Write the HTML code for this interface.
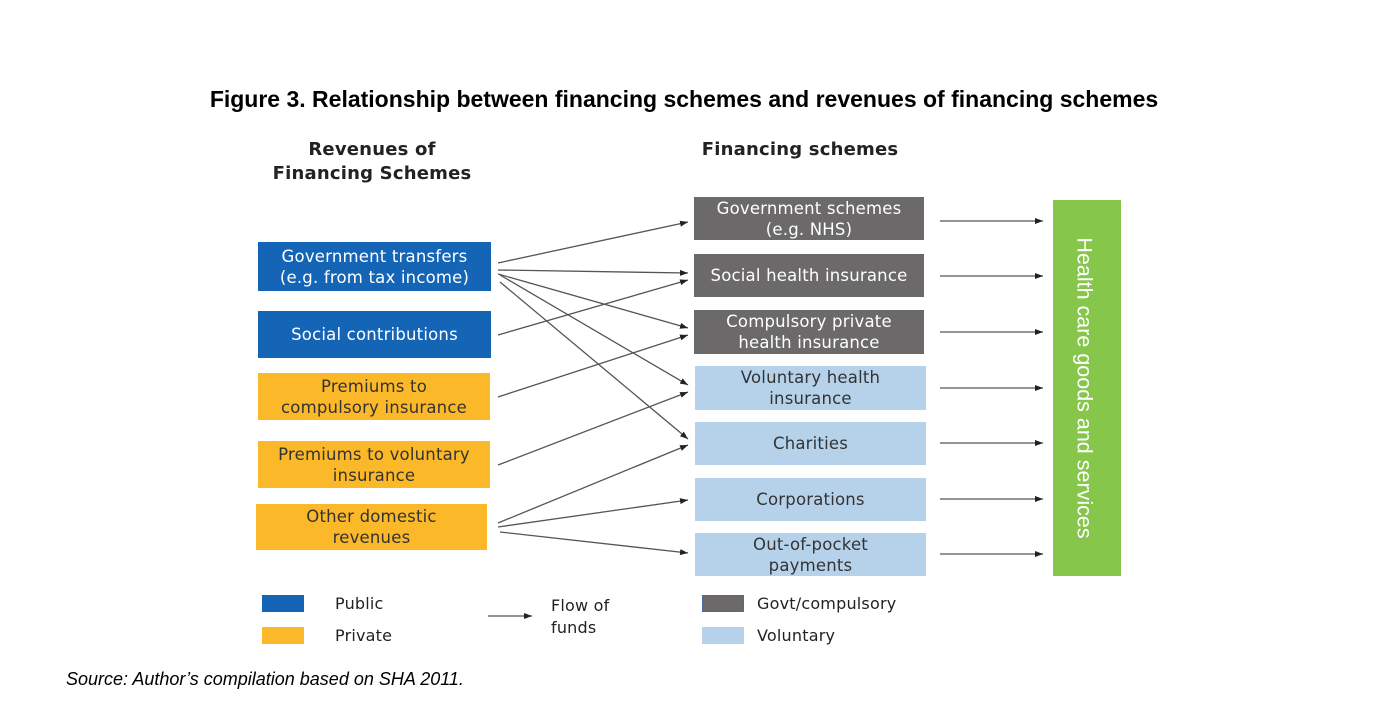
<!DOCTYPE html>
<html><head><meta charset="utf-8"><style>
body{margin:0;width:1378px;height:706px;background:#fff;position:relative;overflow:hidden;font-family:"Liberation Sans",sans-serif}
.b{position:absolute;display:flex;align-items:center;justify-content:center;text-align:center;font-family:"DejaVu Sans",sans-serif;font-size:16.5px;line-height:21px;letter-spacing:0.2px}
.pub{background:#1565b7;color:#fff}.pri{background:#fbb829;color:#333}
.gov{background:#6b6969;color:#fff}.vol{background:#b6d2ea;color:#333}
.t{position:absolute;font-family:"DejaVu Sans",sans-serif;font-size:16px;color:#222;letter-spacing:0.2px}
.sw{position:absolute;width:42px;height:17px}
</style></head><body>
<div class="t" style="left:0;width:1368px;top:86px;text-align:center;font-family:'Liberation Sans',sans-serif;font-weight:bold;font-size:23px;color:#000;letter-spacing:0">Figure 3. Relationship between financing schemes and revenues of financing schemes</div>
<div class="t" style="left:252px;width:240px;top:138px;text-align:center;font-weight:bold;font-size:18px;line-height:24px">Revenues of<br>Financing Schemes</div>
<div class="t" style="left:680px;width:240px;top:138px;text-align:center;font-weight:bold;font-size:18px;line-height:24px">Financing schemes</div>

<div class="b pub" style="left:258px;top:242px;width:233px;height:49px">Government transfers<br>(e.g. from tax income)</div>
<div class="b pub" style="left:258px;top:311px;width:233px;height:47px">Social contributions</div>
<div class="b pri" style="left:258px;top:373px;width:232px;height:47px">Premiums to<br>compulsory insurance</div>
<div class="b pri" style="left:258px;top:441px;width:232px;height:47px">Premiums to voluntary<br>insurance</div>
<div class="b pri" style="left:256px;top:504px;width:231px;height:46px">Other domestic<br>revenues</div>

<div class="b gov" style="left:694px;top:197px;width:230px;height:43px">Government schemes<br>(e.g. NHS)</div>
<div class="b gov" style="left:694px;top:254px;width:230px;height:43px">Social health insurance</div>
<div class="b gov" style="left:694px;top:310px;width:230px;height:44px">Compulsory private<br>health insurance</div>
<div class="b vol" style="left:695px;top:366px;width:231px;height:44px">Voluntary health<br>insurance</div>
<div class="b vol" style="left:695px;top:422px;width:231px;height:43px">Charities</div>
<div class="b vol" style="left:695px;top:478px;width:231px;height:43px">Corporations</div>
<div class="b vol" style="left:695px;top:533px;width:231px;height:43px">Out-of-pocket<br>payments</div>

<div style="position:absolute;left:1053px;top:200px;width:68px;height:376px;background:#86c64a"></div>
<div style="position:absolute;left:1084px;top:388px;transform:translate(-50%,-50%) rotate(90deg);white-space:nowrap;color:#fff;font-size:21.5px">Health care goods and services</div>

<svg width="1378" height="706" style="position:absolute;left:0;top:0">
<defs><marker id="a" markerWidth="8" markerHeight="6" refX="8" refY="3" orient="auto" markerUnits="userSpaceOnUse"><path d="M0,0L8,3L0,6z" fill="#222"/></marker></defs>
<g stroke="#555" stroke-width="1.3" marker-end="url(#a)" fill="none">
<line x1="498" y1="263" x2="688" y2="222"/>
<line x1="498" y1="270" x2="688" y2="273"/>
<line x1="498" y1="274" x2="688" y2="328"/>
<line x1="500" y1="275" x2="688" y2="385"/>
<line x1="500" y1="282" x2="688" y2="439"/>
<line x1="498" y1="335" x2="688" y2="280"/>
<line x1="498" y1="397" x2="688" y2="335"/>
<line x1="498" y1="465" x2="688" y2="392"/>
<line x1="498" y1="523" x2="688" y2="445"/>
<line x1="498" y1="527" x2="688" y2="500"/>
<line x1="500" y1="532" x2="688" y2="553"/>
<line x1="940" y1="221" x2="1043" y2="221"/>
<line x1="940" y1="276" x2="1043" y2="276"/>
<line x1="940" y1="332" x2="1043" y2="332"/>
<line x1="940" y1="388" x2="1043" y2="388"/>
<line x1="940" y1="443" x2="1043" y2="443"/>
<line x1="940" y1="499" x2="1043" y2="499"/>
<line x1="940" y1="554" x2="1043" y2="554"/>
<line x1="488" y1="616" x2="532" y2="616"/>
</g></svg>

<div class="sw" style="left:262px;top:595px;background:#1565b7"></div>
<div class="t" style="left:335px;top:594px">Public</div>
<div class="sw" style="left:262px;top:627px;background:#fbb829"></div>
<div class="t" style="left:335px;top:626px">Private</div>
<div class="t" style="left:551px;top:595px;line-height:22px">Flow of<br>funds</div>
<div class="sw" style="left:702px;top:595px;background:#6b6969;box-sizing:border-box;border:1px solid #4a6a9a"></div>
<div class="t" style="left:757px;top:594px">Govt/compulsory</div>
<div class="sw" style="left:702px;top:627px;background:#b6d2ea"></div>
<div class="t" style="left:757px;top:626px">Voluntary</div>

<div class="t" style="left:66px;top:669px;font-family:'Liberation Sans',sans-serif;font-style:italic;font-size:18px;color:#000;letter-spacing:0">Source: Author’s compilation based on SHA 2011.</div>
</body></html>
